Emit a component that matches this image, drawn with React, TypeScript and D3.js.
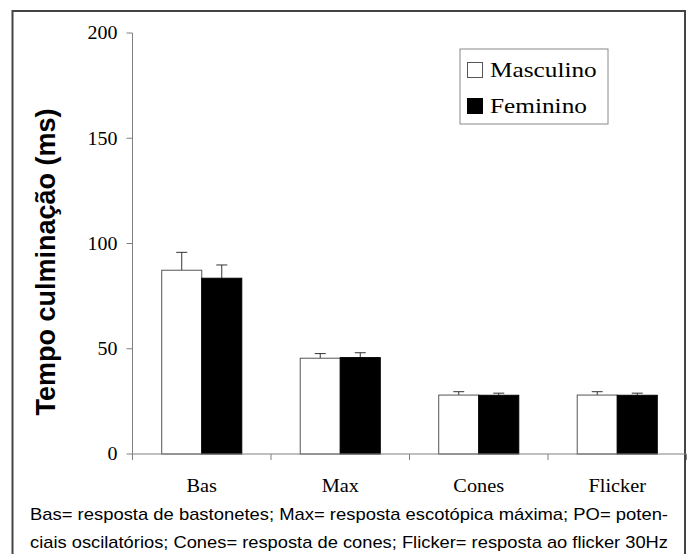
import React from "react";
import * as d3 from "d3";

const categories = ["Bas", "Max", "Cones", "Flicker"];
const seriesNames = ["Masculino", "Feminino"];
const masculino = [87.3, 45.5, 28.0, 28.0];
const masculinoErr = [8.5, 2.2, 1.6, 1.6];
const feminino = [83.5, 45.8, 27.9, 27.9];
const femininoErr = [6.3, 2.3, 1.0, 1.0];
const yTicks = [0, 50, 100, 150, 200];
const captionLines = [
  "Bas= resposta de bastonetes; Max= resposta escotópica máxima; PO= poten-",
  "ciais oscilatórios; Cones= resposta de cones; Flicker= resposta ao flicker 30Hz",
];

const serif = "'Liberation Serif', 'Times New Roman', serif";
const sans = "'Liberation Sans', Arial, sans-serif";

// the original scan is a bit wider than tall, so text gets a horizontal stretch
function Stretched(props: any) {
  const { x, y, sx, children, ...rest } = props;
  return (
    <text transform={`translate(${x},${y}) scale(${sx},1)`} {...rest}>
      {children}
    </text>
  );
}

export default function App() {
  const width = 689;
  const height = 554;
  const x0 = 132.5;
  const x1 = 686.5;
  const yTop = 33;
  const yBottom = 454;

  const x = d3.scaleBand<string>().domain(categories).range([x0, x1]).padding(0);
  const xs = d3
    .scaleBand<string>()
    .domain(seriesNames)
    .range([0, x.bandwidth()])
    .paddingInner(0)
    .paddingOuter(0.73);
  const y = d3.scaleLinear().domain([0, 200]).range([yBottom, yTop]);

  const series = [
    { name: "Masculino", values: masculino, err: masculinoErr, fill: "#ffffff", stroke: "#555" },
    { name: "Feminino", values: feminino, err: femininoErr, fill: "#000000", stroke: "#000" },
  ];

  const boundaries = [x0, ...categories.map((c) => (x(c) as number) + x.bandwidth())];

  return (
    <svg
      width={width}
      height={height}
      style={{ position: "absolute", left: 0, top: 0, background: "#fff" }}
    >
      {/* outer frame, open at the bottom */}
      <path
        d={`M12.5,${height} V11 H685 V${height}`}
        fill="none"
        stroke="#444"
        strokeWidth={2}
      />

      {/* bars */}
      {series.map((s) =>
        categories.map((c, i) => {
          const bx = (x(c) as number) + (xs(s.name) as number);
          const bw = xs.bandwidth();
          const top = y(s.values[i]);
          const errTop = y(s.values[i] + s.err[i]);
          const cx = bx + bw / 2;
          return (
            <g key={s.name + c}>
              <line x1={cx} x2={cx} y1={top} y2={errTop} stroke="#333" strokeWidth={1} />
              <line x1={cx - 5.5} x2={cx + 5.5} y1={errTop} y2={errTop} stroke="#333" strokeWidth={1} />
              <rect
                x={bx}
                y={top}
                width={bw}
                height={yBottom - top}
                fill={s.fill}
                stroke={s.stroke}
                strokeWidth={1}
              />
            </g>
          );
        })
      )}

      {/* y axis */}
      <line x1={x0} x2={x0} y1={yTop} y2={yBottom + 6} stroke="#808080" strokeWidth={1} />
      {yTicks.map((t) => (
        <g key={t}>
          <line x1={x0 - 6} x2={x0} y1={y(t)} y2={y(t)} stroke="#808080" strokeWidth={1} />
          <Stretched
            x={x0 - 15}
            y={y(t)}
            sx={1.05}
            dy="0.34em"
            textAnchor="end"
            fontFamily={serif}
            fontSize={19}
            fill="#000"
          >
            {t}
          </Stretched>
        </g>
      ))}

      {/* x axis */}
      <line x1={x0} x2={x1} y1={yBottom} y2={yBottom} stroke="#808080" strokeWidth={1} />
      {boundaries.map((b, i) => (
        <line key={i} x1={b} x2={b} y1={yBottom} y2={yBottom + 6} stroke="#808080" strokeWidth={1} />
      ))}
      {categories.map((c) => (
        <Stretched
          key={c}
          x={(x(c) as number) + x.bandwidth() / 2}
          y={492}
          sx={1.13}
          textAnchor="middle"
          fontFamily={serif}
          fontSize={18}
          fill="#000"
        >
          {c}
        </Stretched>
      ))}

      {/* y label */}
      <text
        transform="translate(55,262) rotate(-90)"
        textAnchor="middle"
        fontFamily={sans}
        fontWeight="bold"
        fontSize={27}
        fill="#000"
      >
        Tempo culminação (ms)
      </text>

      {/* legend */}
      <rect x={460} y={49} width={148} height={75} fill="#fff" stroke="#888" strokeWidth={1} />
      {series.map((s, i) => (
        <g key={s.name}>
          <rect
            x={467.5}
            y={62.5 + i * 36}
            width={15}
            height={15}
            fill={s.fill}
            stroke={i === 0 ? "#555" : "#000"}
            strokeWidth={1}
          />
          <Stretched x={490} y={77 + i * 36} sx={1.15} fontFamily={serif} fontSize={22} fill="#000">
            {s.name}
          </Stretched>
        </g>
      ))}

      {/* caption */}
      {captionLines.map((line, i) => (
        <text
          key={i}
          x={30}
          y={520 + i * 28}
          fontFamily={sans}
          fontSize={17}
          textLength={638}
          lengthAdjust="spacingAndGlyphs"
          fill="#000"
        >
          {line}
        </text>
      ))}
    </svg>
  );
}
